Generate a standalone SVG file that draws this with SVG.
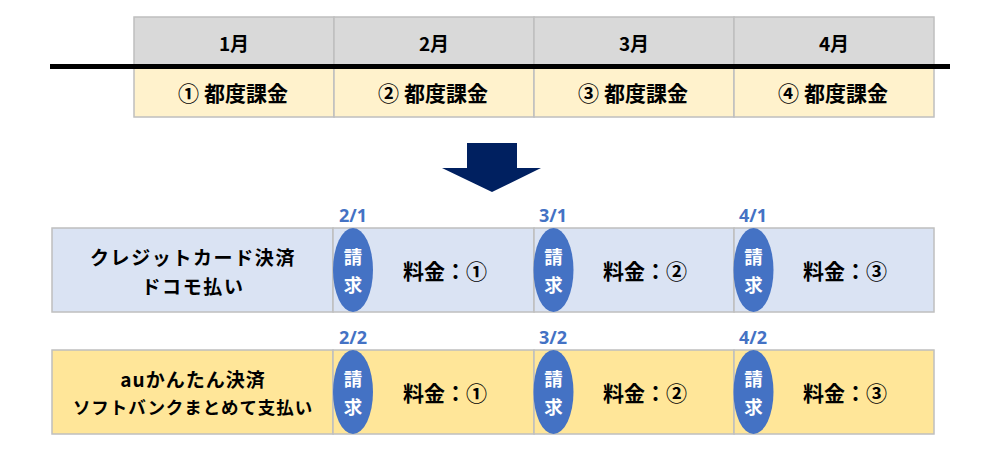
<svg xmlns="http://www.w3.org/2000/svg" width="1000" height="451" viewBox="0 0 1000 451">
<style>
.t{font-family:"Noto Sans CJK JP","Noto Sans",sans-serif;font-weight:bold;fill:#000;text-anchor:middle;dominant-baseline:central}
.cell{stroke:#BFBFBF;stroke-width:1.5}
.hd{fill:#D9D9D9}
.yl{fill:#FFF2CC}
.bl{fill:#DAE3F3}
.gd{fill:#FFE699}
.ov{fill:#4472C4}
.w{font-family:"Noto Sans CJK JP",sans-serif;font-weight:bold;fill:#fff;text-anchor:middle;dominant-baseline:central;font-size:18.5px}
.d{font-family:"Noto Sans","Noto Sans CJK JP",sans-serif;font-weight:bold;fill:#4472C4;text-anchor:middle;font-size:18px}
</style>
<rect width="1000" height="451" fill="#fff"/>
<g id="months">
<rect class="cell hd" x="134" y="17" width="200" height="49"/>
<rect class="cell hd" x="334" y="17" width="200" height="49"/>
<rect class="cell hd" x="534" y="17" width="200" height="49"/>
<rect class="cell hd" x="734" y="17" width="200" height="49"/>
<text class="t" x="234" y="42" font-size="19">1月</text>
<text class="t" x="434" y="42" font-size="19">2月</text>
<text class="t" x="634" y="42" font-size="19">3月</text>
<text class="t" x="834" y="42" font-size="19">4月</text>
</g>
<g id="charges">
<rect class="cell yl" x="134" y="66" width="200" height="51"/>
<rect class="cell yl" x="334" y="66" width="200" height="51"/>
<rect class="cell yl" x="534" y="66" width="200" height="51"/>
<rect class="cell yl" x="734" y="66" width="200" height="51"/>
<text class="t" x="233" y="92" font-size="21">① 都度課金</text>
<text class="t" x="433" y="92" font-size="21">② 都度課金</text>
<text class="t" x="633" y="92" font-size="21">③ 都度課金</text>
<text class="t" x="833" y="92" font-size="21">④ 都度課金</text>
</g>
<g id="divider">
<rect x="50" y="64" width="900" height="5" fill="#000"/>
</g>
<g id="arrow">
<polygon points="467,143 517,143 517,168 541,168 492,192 442,168 467,168" fill="#002060"/>
</g>
<g id="row1">
<rect class="cell bl" x="52" y="228" width="281" height="84"/>
<rect class="cell bl" x="333" y="228" width="201" height="84"/>
<rect class="cell bl" x="534" y="228" width="200" height="84"/>
<rect class="cell bl" x="734" y="228" width="200" height="84"/>
<text class="t" font-size="19" letter-spacing="1.6"><tspan x="193" y="256">クレジットカード決済</tspan><tspan x="193" y="284.5">ドコモ払い</tspan></text>
<text class="t" x="445" y="270" font-size="21">料金：①</text>
<text class="t" x="645" y="270" font-size="21">料金：②</text>
<text class="t" x="845" y="270" font-size="21">料金：③</text>
</g>
<g id="row2">
<rect class="cell gd" x="52" y="350" width="281" height="84"/>
<rect class="cell gd" x="333" y="350" width="201" height="84"/>
<rect class="cell gd" x="534" y="350" width="200" height="84"/>
<rect class="cell gd" x="734" y="350" width="200" height="84"/>
<text class="t"><tspan x="193" y="378" font-size="19" letter-spacing="1">auかんたん決済</tspan><tspan x="193" y="405.5" font-size="17.5" letter-spacing="0.9">ソフトバンクまとめて支払い</tspan></text>
<text class="t" x="445" y="392" font-size="21">料金：①</text>
<text class="t" x="645" y="392" font-size="21">料金：②</text>
<text class="t" x="845" y="392" font-size="21">料金：③</text>
</g>
<g id="bills1">
<text class="d" x="353" y="222">2/1</text>
<text class="d" x="553" y="222">3/1</text>
<text class="d" x="753" y="222">4/1</text>
<ellipse class="ov" cx="353" cy="270" rx="20" ry="42"/>
<ellipse class="ov" cx="553.5" cy="270" rx="20" ry="42"/>
<ellipse class="ov" cx="753.5" cy="270" rx="20" ry="42"/>
<text class="w"><tspan x="353" y="256">請</tspan><tspan x="353" y="283.5">求</tspan></text>
<text class="w"><tspan x="553.5" y="256">請</tspan><tspan x="553.5" y="283.5">求</tspan></text>
<text class="w"><tspan x="753.5" y="256">請</tspan><tspan x="753.5" y="283.5">求</tspan></text>
</g>
<g id="bills2">
<text class="d" x="353" y="344">2/2</text>
<text class="d" x="553" y="344">3/2</text>
<text class="d" x="753" y="344">4/2</text>
<ellipse class="ov" cx="353" cy="392" rx="20" ry="42"/>
<ellipse class="ov" cx="553.5" cy="392" rx="20" ry="42"/>
<ellipse class="ov" cx="753.5" cy="392" rx="20" ry="42"/>
<text class="w"><tspan x="353" y="378">請</tspan><tspan x="353" y="405.5">求</tspan></text>
<text class="w"><tspan x="553.5" y="378">請</tspan><tspan x="553.5" y="405.5">求</tspan></text>
<text class="w"><tspan x="753.5" y="378">請</tspan><tspan x="753.5" y="405.5">求</tspan></text>
</g>
</svg>
